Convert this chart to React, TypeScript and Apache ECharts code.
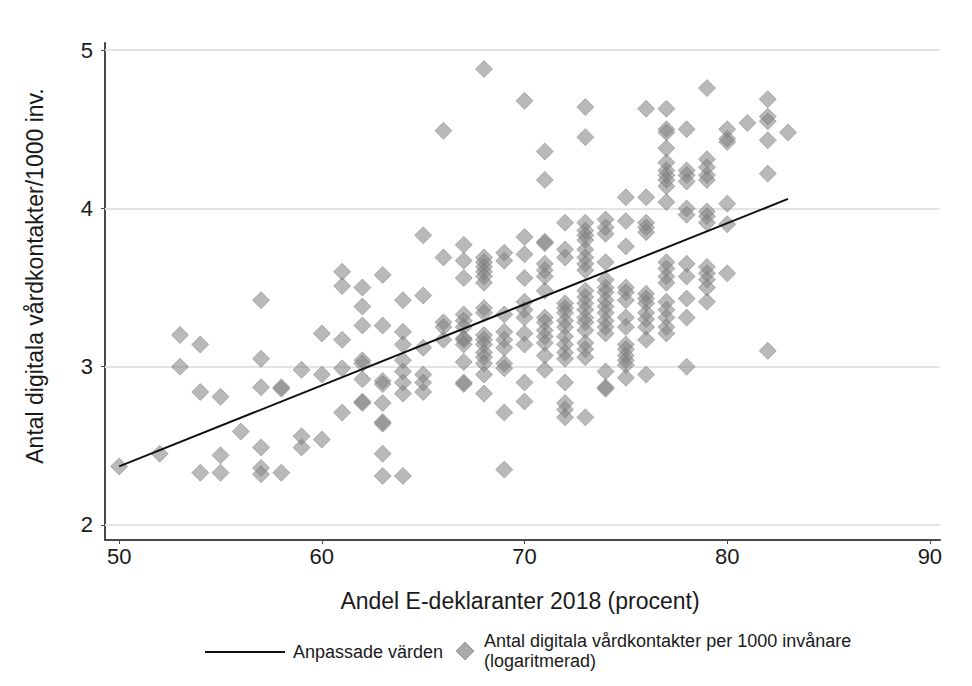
import React, { useEffect, useRef } from 'react';
import * as echarts from 'echarts';

// X axis tick labels (percent) and Y axis tick labels
const xTicks = [50, 60, 70, 80, 90];
const yTicks = [2, 3, 4, 5];

// Share of e-filers 2018 (percent), one entry per column of points
const columnPct = [50, 52, 53, 54, 55, 56, 57, 58, 59, 60, 61, 62, 63, 64, 65, 66, 67, 68, 69, 70, 71, 72, 73, 74, 75, 76, 77, 78, 79, 80, 81, 82, 83];

// Digital care contacts per 1000 inhabitants (log), per column
const columnLogValues = [
  [2.37],
  [2.45],
  [3.20, 3.00],
  [3.14, 2.84, 2.33],
  [2.81, 2.44, 2.33],
  [2.59],
  [3.42, 3.05, 2.87, 2.49, 2.36, 2.32],
  [2.87, 2.86, 2.33],
  [2.98, 2.56, 2.49],
  [3.21, 2.95, 2.54],
  [3.60, 3.51, 3.17, 2.99, 2.71],
  [3.50, 3.38, 3.26, 3.04, 3.02, 2.92, 2.78, 2.77],
  [3.58, 3.26, 2.91, 2.89, 2.77, 2.65, 2.64, 2.45, 2.31],
  [3.42, 3.22, 3.14, 3.04, 2.97, 2.90, 2.83, 2.31],
  [3.83, 3.45, 3.12, 2.95, 2.90, 2.84],
  [4.49, 3.69, 3.28, 3.25, 3.17],
  [3.77, 3.67, 3.56, 3.33, 3.29, 3.25, 3.18, 3.17, 3.14, 3.03, 2.90, 2.89],
  [4.88, 3.69, 3.66, 3.63, 3.60, 3.57, 3.53, 3.37, 3.34, 3.20, 3.17, 3.14, 3.09, 3.06, 3.02, 2.95, 2.83],
  [3.72, 3.67, 3.33, 3.22, 3.17, 3.12, 3.02, 2.99, 2.71, 2.35],
  [4.68, 3.82, 3.71, 3.56, 3.41, 3.36, 3.31, 3.21, 3.14, 2.90, 2.78],
  [4.36, 4.18, 3.79, 3.78, 3.65, 3.61, 3.57, 3.48, 3.31, 3.28, 3.23, 3.19, 3.15, 3.07, 2.98],
  [3.91, 3.74, 3.69, 3.40, 3.37, 3.34, 3.29, 3.25, 3.19, 3.14, 3.09, 3.05, 2.90, 2.77, 2.73, 2.68],
  [4.64, 4.45, 3.91, 3.86, 3.83, 3.80, 3.74, 3.69, 3.65, 3.61, 3.48, 3.44, 3.40, 3.36, 3.31, 3.28, 3.23, 3.15, 3.11, 3.06, 2.68],
  [3.93, 3.88, 3.84, 3.66, 3.55, 3.50, 3.47, 3.42, 3.38, 3.34, 3.29, 3.25, 3.21, 2.97, 2.87, 2.86],
  [4.07, 3.92, 3.76, 3.50, 3.47, 3.42, 3.31, 3.25, 3.14, 3.11, 3.07, 3.04, 3.01, 2.93],
  [4.63, 4.07, 3.91, 3.88, 3.85, 3.46, 3.43, 3.40, 3.34, 3.30, 3.25, 3.17, 2.95],
  [4.63, 4.50, 4.48, 4.38, 4.29, 4.24, 4.21, 4.18, 4.14, 4.04, 3.66, 3.62, 3.57, 3.53, 3.41, 3.36, 3.31, 3.25, 3.21],
  [4.50, 4.24, 4.21, 4.17, 4.00, 3.96, 3.65, 3.57, 3.43, 3.31, 3.00],
  [4.76, 4.31, 4.26, 4.21, 4.18, 3.98, 3.95, 3.91, 3.63, 3.59, 3.55, 3.50, 3.41],
  [4.50, 4.44, 4.42, 4.03, 3.90, 3.59],
  [4.54],
  [4.69, 4.58, 4.55, 4.43, 4.22, 3.10],
  [4.48],
];

// Fitted values (regression line end points)
const fitPct = [50, 83];
const fitValues = [2.37, 4.06];

const xAxisTitle = 'Andel E-deklaranter 2018 (procent)';
const yAxisTitle = 'Antal digitala vårdkontakter/1000 inv.';
const fitLegend = 'Anpassade värden';
const scatterLegend = 'Antal digitala vårdkontakter per 1000 invånare\n(logaritmerad)';

const FONT = '"Liberation Sans", Arial, sans-serif';

export default function App() {
  const ref = useRef<HTMLDivElement>(null);

  useEffect(() => {
    document.body.style.margin = '0';
    if (!ref.current) return;
    const chart = echarts.init(ref.current, undefined, { renderer: 'svg' });

    const scatterData: number[][] = [];
    columnPct.forEach((x, i) => {
      columnLogValues[i].forEach((y) => scatterData.push([x, y]));
    });
    const fitData = fitPct.map((x, i) => [x, fitValues[i]]);

    const option: any = {
      animation: false,
      backgroundColor: '#ffffff',
      textStyle: { fontFamily: FONT },
      grid: { left: 105, right: 32, top: 43, bottom: 146, containLabel: false },
      xAxis: {
        type: 'value',
        min: 49.3,
        max: 90.5,
        axisLine: { show: true, lineStyle: { color: '#4a4a4a', width: 2 } },
        axisTick: { show: true, customValues: xTicks, length: 4, lineStyle: { color: '#4a4a4a', width: 1 } },
        axisLabel: { customValues: xTicks, color: '#1a1a1a', fontSize: 22, fontFamily: FONT, margin: 5 },
        splitLine: { show: false },
      },
      yAxis: {
        type: 'value',
        min: 1.905,
        max: 5.045,
        axisLine: { show: true, lineStyle: { color: '#4a4a4a', width: 2 } },
        axisTick: { show: true, customValues: yTicks, length: 4, lineStyle: { color: '#4a4a4a', width: 1 } },
        axisLabel: { customValues: yTicks, color: '#1a1a1a', fontSize: 22, fontFamily: FONT, margin: 12 },
        splitLine: { show: false },
      },
      series: [
        {
          type: 'scatter',
          name: 'points',
          z: 3,
          symbol: 'diamond',
          symbolSize: 17,
          itemStyle: {
            color: 'rgba(130,130,130,0.7)',
            borderColor: 'rgba(110,110,110,0.55)',
            borderWidth: 1,
          },
          data: scatterData,
          markLine: {
            silent: true,
            z: 1,
            symbol: ['none', 'none'],
            label: { show: false },
            lineStyle: { color: '#e4e4e4', width: 2, type: 'solid' },
            data: yTicks.map((v) => ({ yAxis: v })),
          },
        },
        {
          type: 'line',
          name: 'fit',
          z: 4,
          symbol: 'none',
          lineStyle: { color: '#111', width: 2 },
          data: fitData,
        },
      ],
      graphic: [
        {
          type: 'text',
          x: 35,
          y: 276,
          rotation: Math.PI / 2,
          style: {
            text: yAxisTitle,
            fill: '#1a1a1a',
            font: `23px ${FONT}`,
            textAlign: 'center',
            textVerticalAlign: 'middle',
          },
        },
        {
          type: 'text',
          x: 520,
          y: 601,
          style: {
            text: xAxisTitle,
            fill: '#1a1a1a',
            font: `23px ${FONT}`,
            textAlign: 'center',
            textVerticalAlign: 'middle',
          },
        },
        {
          type: 'line',
          shape: { x1: 205, y1: 652, x2: 285, y2: 652 },
          style: { stroke: '#111', lineWidth: 2 },
        },
        {
          type: 'text',
          x: 293,
          y: 652,
          style: {
            text: fitLegend,
            fill: '#1a1a1a',
            font: `18px ${FONT}`,
            textAlign: 'left',
            textVerticalAlign: 'middle',
          },
        },
        {
          type: 'polygon',
          shape: { points: [[465, 642], [474, 651], [465, 660], [456, 651]] },
          style: { fill: '#a9a9a9', stroke: '#9a9a9a', lineWidth: 1 },
        },
        {
          type: 'text',
          x: 484,
          y: 651,
          style: {
            text: scatterLegend,
            fill: '#1a1a1a',
            font: `18px ${FONT}`,
            lineHeight: 20,
            textAlign: 'left',
            textVerticalAlign: 'middle',
          },
        },
      ],
    };

    chart.setOption(option);
    return () => chart.dispose();
  }, []);

  return <div ref={ref} style={{ width: 972, height: 686 }} />;
}
